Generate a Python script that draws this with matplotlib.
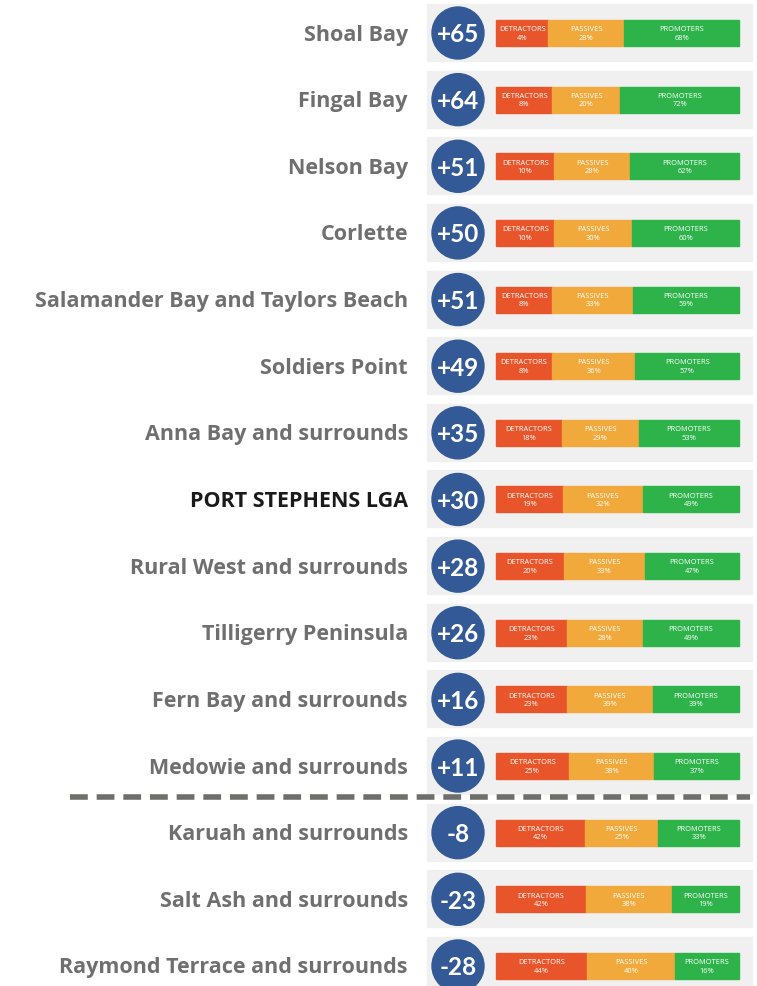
import matplotlib
matplotlib.use("Agg")
import matplotlib.pyplot as plt
from matplotlib.patches import Circle, Rectangle

# data read from the infographic
areas = ["Shoal Bay", "Fingal Bay", "Nelson Bay", "Corlette",
         "Salamander Bay and Taylors Beach", "Soldiers Point",
         "Anna Bay and surrounds", "PORT STEPHENS LGA",
         "Rural West and surrounds", "Tilligerry Peninsula",
         "Fern Bay and surrounds", "Medowie and surrounds",
         "Karuah and surrounds", "Salt Ash and surrounds",
         "Raymond Terrace and surrounds"]
nps = [65, 64, 51, 50, 51, 49, 35, 30, 28, 26, 16, 11, -8, -23, -28]
detractors = [4, 8, 10, 10, 8, 8, 18, 19, 20, 23, 23, 25, 42, 42, 44]
passives = [28, 20, 28, 30, 33, 36, 29, 32, 33, 28, 39, 38, 25, 38, 40]
promoters = [68, 72, 62, 60, 59, 57, 53, 49, 47, 49, 39, 37, 33, 19, 16]
highlight = "PORT STEPHENS LGA"

seg_names = ["DETRACTORS", "PASSIVES", "PROMOTERS"]
seg_colors = ["#E8552A", "#F2A93C", "#2DB34A"]
# segments in the original keep room for their labels, so widths are
# roughly proportional to (pct + pad) rather than pct alone
pad = 50

W, H = 757, 987
fig = plt.figure(figsize=(W / 100, H / 100), dpi=100)
ax = fig.add_axes([0, 0, 1, 1])
ax.set_xlim(0, W)
ax.set_ylim(H, 0)
ax.set_aspect("equal")
ax.axis("off")

row0, step = 34, 66.64
bar_x0, bar_x1 = 496, 739

for i, name in enumerate(areas):
    yc = row0 + i * step
    # grey panel
    ax.add_patch(Rectangle((427, yc - 29), 325, 57, color="#F0F0F0", zorder=1))
    # score bubble
    ax.add_patch(Circle((458, yc), 26, color="#335A96", zorder=3))
    score = f"+{nps[i]}" if nps[i] > 0 else str(nps[i])
    ax.text(458, yc + 1, score, color="white", fontsize=17.5, fontweight="bold",
            family="Lato", ha="center", va="center", zorder=4)
    # label
    ax.text(408, yc + 1, name, ha="right", va="center", fontsize=15.5,
            fontweight="bold", family="Open Sans",
            color="#1a1a1a" if name == highlight else "#6F6F6F")
    # stacked bar
    vals = [detractors[i], passives[i], promoters[i]]
    tot = sum(v + pad for v in vals)
    x = bar_x0
    for v, lab, c in zip(vals, seg_names, seg_colors):
        w = (bar_x1 - bar_x0) * (v + pad) / tot
        ax.add_patch(Rectangle((x, yc - 13), w, 26, color=c, zorder=2))
        ax.text(x + w / 2, yc, f"{lab}\n{v}%", color="white", fontsize=5.4,
                family="Open Sans", ha="center", va="center",
                linespacing=1.3, zorder=3)
        x += w

# divider between positive and negative scores
ax.plot([70, 750], [798, 798], color="#6E6E6A", lw=4, ls=(0, (3.2, 1.6)),
        zorder=5, solid_capstyle="butt")

fig.savefig("out.png", dpi=100, facecolor="white")
